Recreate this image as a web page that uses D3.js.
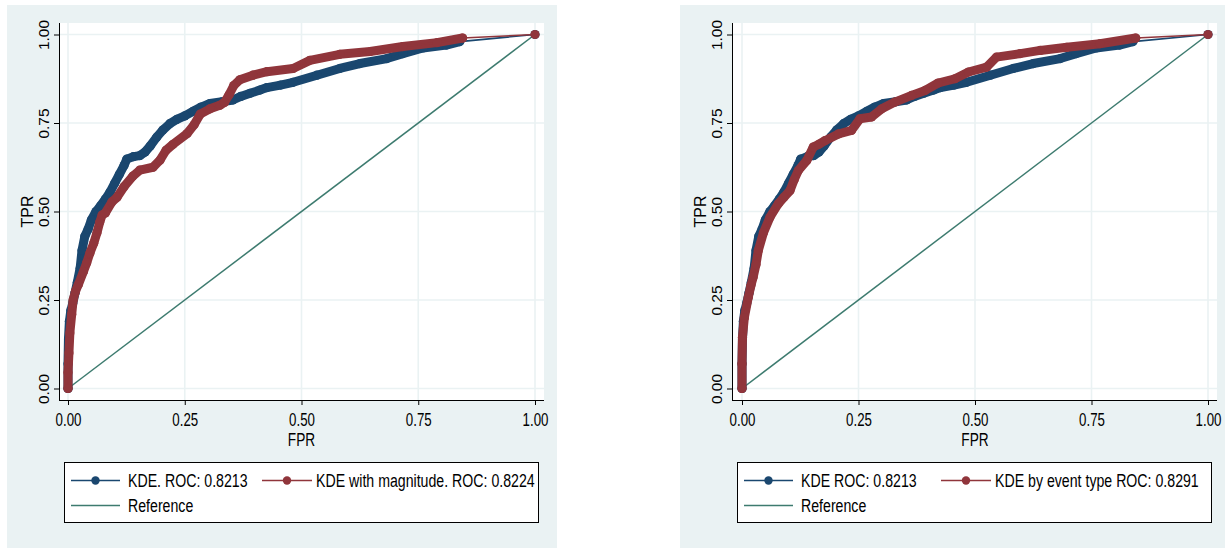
<!DOCTYPE html>
<html><head><meta charset="utf-8">
<script src="https://cdn.jsdelivr.net/npm/d3@7"></script>
<style>
html,body{margin:0;padding:0;background:#fff;}
svg{display:block;}
text{font-family:"Liberation Sans",Arial,Helvetica,sans-serif;}
</style></head>
<body>
<svg id="c" width="1225" height="548"></svg>
<script>
// ---- data ----
const tickValues = [0, 0.25, 0.5, 0.75, 1];
const tickLabels = ["0.00", "0.25", "0.50", "0.75", "1.00"];
const xTitle = "FPR";
const yTitle = "TPR";

// KDE (same model in both panels)
const kdeFPR = [0,0,.001,.003,.006,.01,.015,.02,.026,.03,.036,.043,.05,.06,.069,.08,.09,.10,.11,.12,.126,.14,.154,.165,.176,.19,.203,.218,.233,.25,.268,.285,.304,.33,.353,.37,.39,.411,.426,.455,.482,.533,.582,.625,.683,.717,.76,.81,.839,1];
const kdeTPR = [0,.07,.14,.19,.22,.24,.27,.30,.34,.39,.43,.45,.476,.50,.515,.535,.555,.58,.605,.63,.648,.655,.658,.668,.685,.71,.73,.748,.76,.77,.783,.795,.805,.81,.815,.825,.834,.843,.85,.857,.865,.885,.904,.918,.932,.946,.962,.97,.98,1];

// KDE with magnitude (left panel)
const magFPR = [0,0,.002,.004,.008,.011,.016,.022,.033,.04,.047,.055,.062,.068,.073,.08,.094,.105,.12,.139,.154,.182,.197,.21,.225,.255,.27,.283,.304,.325,.335,.345,.355,.368,.396,.426,.482,.518,.582,.647,.717,.79,.845,1];
const magTPR = [0,.045,.1,.157,.21,.25,.275,.293,.33,.355,.383,.41,.44,.47,.49,.496,.527,.54,.57,.600,.617,.625,.645,.673,.69,.72,.745,.775,.79,.8,.808,.83,.856,.872,.885,.895,.904,.927,.944,.952,.966,.977,.99,1];

// KDE by event type (right panel)
const typeFPR = [0,0,.001,.005,.0135,.019,.024,.03,.035,.046,.06,.078,.09,.103,.112,.121,.139,.153,.165,.178,.207,.235,.253,.278,.30,.328,.364,.393,.421,.457,.486,.525,.546,.597,.64,.697,.768,.845,1];
const typeTPR = [0,.07,.145,.2,.258,.29,.315,.35,.39,.44,.484,.522,.54,.559,.59,.616,.644,.682,.69,.70,.719,.729,.762,.767,.79,.809,.828,.842,.863,.875,.894,.908,.936,.946,.955,.964,.974,.99,1];

const refFPR = [0, 1];
const refTPR = [0, 1];

const leftLegend = ["KDE. ROC: 0.8213", "KDE with magnitude. ROC: 0.8224", "Reference"];
const rightLegend = ["KDE ROC: 0.8213", "KDE by event type ROC: 0.8291", "Reference"];

// ---- style ----
const NAVY = "#1a476f", MAROON = "#90353b", TEAL = "#3d7b6f";
const BG = "#eaf2f3", GRID = "#eaf2f3";
const NARROW = 0.76;

const svg = d3.select("#c");

function panel(ox, blue, red, legendTexts, xr, col2shift) {
  const g = svg.append("g").attr("transform", `translate(${ox},0)`);
  g.append("rect").attr("x", 7).attr("y", 5).attr("width", 550).attr("height", 543).attr("fill", BG);
  g.append("rect").attr("x", 59).attr("y", 23).attr("width", 485).attr("height", 377).attr("fill", "#fff");

  const x = d3.scaleLinear().domain([0, 1]).range(xr);
  const y = d3.scaleLinear().domain([0, 1]).range([388.5, 34.5]);

  // gridlines
  g.append("g").selectAll("line").data(tickValues).join("line")
    .attr("x1", 59).attr("x2", 544).attr("y1", d => y(d)).attr("y2", d => y(d))
    .attr("stroke", GRID).attr("stroke-width", 1.6);
  g.append("g").selectAll("line").data(tickValues).join("line")
    .attr("y1", 23).attr("y2", 400).attr("x1", d => x(d)).attr("x2", d => x(d))
    .attr("stroke", GRID).attr("stroke-width", 1.6);

  // axes
  const ya = g.append("g").attr("transform", "translate(59,0)")
    .call(d3.axisLeft(y).tickValues(tickValues).tickFormat((d, i) => tickLabels[i]).tickSize(5).tickSizeOuter(0));
  ya.attr("font-family", null);
  ya.select(".domain").attr("d", "M0.5,23V400").attr("stroke", "#000");
  ya.selectAll(".tick line").attr("stroke", "#000");
  ya.selectAll(".tick text").attr("font-size", 15.5).attr("fill", "#000")
    .attr("x", 0).attr("dy", 0).attr("text-anchor", "middle")
    .attr("transform", "translate(-10.5,0) rotate(-90)");

  const xa = g.append("g").attr("transform", "translate(0,400)")
    .call(d3.axisBottom(x).tickValues(tickValues).tickFormat((d, i) => tickLabels[i]).tickSize(5).tickSizeOuter(0));
  xa.attr("font-family", null);
  xa.select(".domain").attr("d", "M59,0.5H544").attr("stroke", "#000");
  xa.selectAll(".tick line").attr("stroke", "#000");
  xa.selectAll(".tick text").attr("font-size", 17.5).attr("fill", "#000")
    .attr("y", 0).attr("dy", 0).attr("transform", `translate(0,26) scale(${NARROW},1)`);

  g.append("text").attr("font-size", 16)
    .attr("transform", `translate(33,${y(0.5)}) rotate(-90)`).attr("text-anchor", "middle").text(yTitle);
  g.append("text").attr("font-size", 18)
    .attr("transform", `translate(${x(0.5)},446) scale(${NARROW},1)`).attr("text-anchor", "middle").text(xTitle);

  // reference line
  const line = d3.line().x(d => x(d[0])).y(d => y(d[1]));
  const refPts = refFPR.map((f, i) => [f, refTPR[i]]);
  g.append("path").attr("d", line(refPts)).attr("fill", "none").attr("stroke", TEAL).attr("stroke-width", 1.5);

  function curve(fpr, tpr, col) {
    const pts = fpr.map((f, i) => [f, tpr[i]]);
    g.append("path").attr("d", line(pts.slice(0, -1))).attr("fill", "none").attr("stroke", col)
      .attr("stroke-width", 9).attr("stroke-linejoin", "round").attr("stroke-linecap", "round");
    g.append("path").attr("d", line(pts)).attr("fill", "none").attr("stroke", col).attr("stroke-width", 1.6);
    g.selectAll(null).data(pts).join("circle").attr("cx", d => x(d[0])).attr("cy", d => y(d[1]))
      .attr("r", 4.6).attr("fill", col);
  }
  curve(blue[0], blue[1], NAVY);
  curve(red[0], red[1], MAROON);

  // legend
  const lg = g.append("g");
  lg.append("rect").attr("x", 64.5).attr("y", 462.5).attr("width", 474).attr("height", 60)
    .attr("fill", "#fff").attr("stroke", "#000").attr("stroke-width", 1);
  const items = [
    {x0: 71, x1: 120, y: 480.5, col: NAVY, mk: true, tx: 128, t: legendTexts[0]},
    {x0: 262 + col2shift, x1: 312 + col2shift, y: 480.5, col: MAROON, mk: true, tx: 316 + col2shift, t: legendTexts[1]},
    {x0: 71, x1: 120, y: 505.5, col: TEAL, mk: false, tx: 128, t: legendTexts[2]}
  ];
  items.forEach(it => {
    lg.append("line").attr("x1", it.x0).attr("x2", it.x1).attr("y1", it.y).attr("y2", it.y)
      .attr("stroke", it.col).attr("stroke-width", 1.6);
    if (it.mk) lg.append("circle").attr("cx", (it.x0 + it.x1) / 2).attr("cy", it.y).attr("r", 4.2).attr("fill", it.col);
    lg.append("text").attr("font-size", 19)
      .attr("transform", `translate(${it.tx},${it.y + 6.5}) scale(0.745,1)`).text(it.t);
  });
}

panel(0, [kdeFPR, kdeTPR], [magFPR, magTPR], leftLegend, [68, 535], 0);
panel(673, [kdeFPR, kdeTPR], [typeFPR, typeTPR], rightLegend, [69, 535], 6);
</script>
</body></html>
